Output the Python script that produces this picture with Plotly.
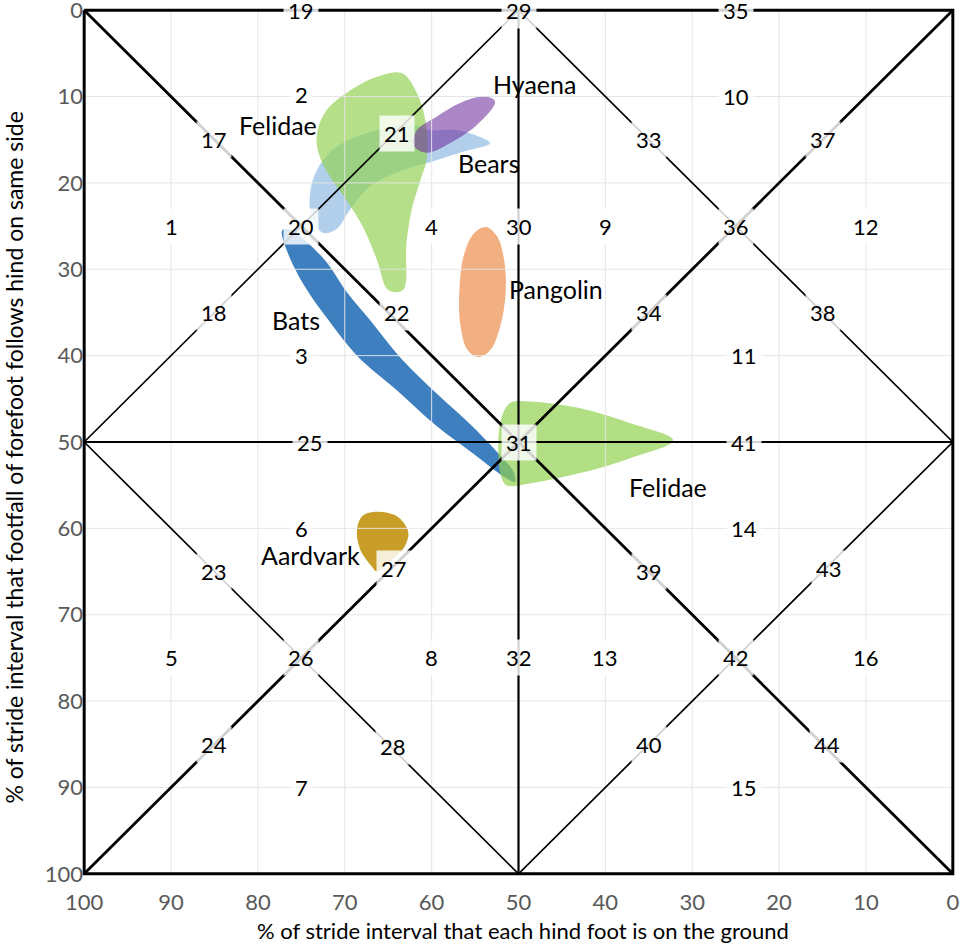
import plotly.graph_objects as go

# ---------------- data ----------------
tick_vals = [0, 10, 20, 30, 40, 50, 60, 70, 80, 90, 100]
grid_vals = [10, 20, 30, 40, 60, 70, 80, 90]

x_title = "% of stride interval that each hind foot is on the ground"
y_title = "% of stride interval that footfall of forefoot follows hind on same side"

# structural lines (x = % stride hind foot on ground, y = % forefoot follows hind)
border_x = [100, 0, 0, 100, 100]
border_y = [0, 0, 100, 100, 0]
diag_x = [100, 0, None, 0, 100]
diag_y = [0, 100, None, 0, 100]
cross_x = [50, 50, None, 100, 0]
cross_y = [0, 100, None, 50, 50]
diamond_x = [100, 50, 0, 50, 100]
diamond_y = [50, 0, 50, 100, 50]

# gait region numbers
region_text = ["19", "29", "35", "2", "10", "17", "21", "33", "37",
               "1", "20", "4", "30", "9", "36", "12",
               "18", "22", "34", "38", "3", "11",
               "25", "31", "41", "6", "14",
               "23", "27", "39", "43",
               "5", "26", "8", "32", "13", "42", "16",
               "24", "28", "40", "44", "7", "15"]
region_x = [75, 50, 25, 75, 25, 85, 64, 35, 15,
            90, 75, 60, 50, 40, 25, 10,
            85, 64, 35, 15, 75, 24,
            74, 50, 24, 75, 24,
            85, 64.3, 35, 14.3,
            90, 75, 60, 50, 40, 25, 10,
            85, 64.4, 35, 14.5, 75, 24]
region_y = [0, 0, 0, 9.8, 10, 15, 14.3, 15, 15,
            25, 25, 25, 25, 25, 25, 25,
            35, 35, 35, 35, 40, 40,
            50, 50, 50, 60, 60,
            65, 64.6, 65, 64.6,
            75, 75, 75, 75, 75, 75, 75,
            85, 85.2, 85, 85, 90, 90]

# animal group outlines
bears_x = [60.2, 57.1, 54.4, 53.3, 56.4, 60.2, 63.3, 67.1, 69.4, 70.9, 72.5, 73.8, 74.0, 73.2, 70.9, 66.3, 62.1]
bears_y = [13.9, 13.9, 14.7, 15.4, 16.4, 17.6, 18.5, 20.4, 23.1, 25.3, 25.8, 23.9, 21.2, 18.5, 15.8, 13.9, 13.3]

felidae1_x = [63.4, 61.7, 60.6, 60.6, 61.3, 62.3, 62.9, 63.3, 65.0, 66.3, 67.9, 69.8, 71.7, 73.0, 73.2, 72.1, 69.4, 66.3]
felidae1_y = [7.3, 9.6, 13.5, 17.4, 19.7, 23.1, 27.0, 32.4, 32.4, 28.9, 25.1, 22.0, 19.3, 16.6, 14.3, 11.6, 9.3, 7.7]

hyaena_x = [62.1, 60.6, 57.9, 54.8, 52.7, 53.7, 56.4, 59.4, 61.7]
hyaena_y = [15.6, 16.5, 15.4, 13.3, 10.6, 10.0, 10.6, 12.3, 13.9]

pangolin_x = [53.7, 52.4, 51.6, 51.5, 52.1, 53.2, 54.6, 55.9, 56.7, 56.8, 56.3, 55.1]
pangolin_y = [25.1, 26.3, 29.3, 33.0, 36.6, 39.3, 40.2, 39.3, 36.4, 32.4, 28.4, 25.8]

bats_x = [77.2, 76.6, 74.6, 71.8, 68.6, 64.0, 59.6, 55.0, 51.4, 50.4,
          50.6, 52.6, 55.5, 59.2, 63.8, 67.0, 69.8, 72.0, 74.4, 76.3]
bats_y = [25.5, 28.0, 32.0, 36.0, 40.0, 44.0, 48.0, 51.5, 54.2, 54.6,
          53.4, 51.0, 48.0, 44.6, 40.0, 36.0, 32.6, 29.3, 26.8, 25.4]

felidae2_x = [51.0, 48.7, 42.9, 37.2, 32.2, 37.2, 42.9, 48.7, 51.4, 52.1, 52.1]
felidae2_y = [45.5, 45.3, 46.1, 47.8, 49.8, 51.9, 53.6, 54.8, 55.0, 53.6, 47.8]

aardvark_x = [66.7, 64.0, 62.7, 63.1, 64.4, 66.3, 66.9, 68.2, 68.6, 68.0]
aardvark_y = [58.1, 58.6, 60.4, 62.1, 63.5, 65.0, 64.4, 62.5, 60.2, 58.6]

group_names = ["Felidae", "Hyaena", "Bears", "Pangolin", "Bats", "Felidae", "Aardvark"]
group_lx = [77.7, 48.2, 53.5, 45.7, 75.6, 32.8, 74.0]
group_ly = [13.3, 8.6, 17.7, 32.3, 35.9, 55.2, 63.1]

FONT = "Lato, 'Open Sans', sans-serif"

fig = go.Figure()


def blob(xs, ys, color):
    fig.add_trace(go.Scatter(
        x=xs + xs[:1], y=ys + ys[:1], mode="lines", fill="toself",
        fillcolor=color, line=dict(width=0, shape="spline", smoothing=1.0),
        hoverinfo="skip", showlegend=False))


blob(bears_x, bears_y, "rgba(157,195,230,0.80)")
blob(felidae1_x, felidae1_y, "rgba(146,208,80,0.68)")
blob(hyaena_x, hyaena_y, "rgba(112,48,160,0.58)")
blob(pangolin_x, pangolin_y, "rgb(242,176,130)")
blob(bats_x, bats_y, "rgb(62,127,191)")
blob(felidae2_x, felidae2_y, "rgba(146,208,80,0.70)")
blob(aardvark_x, aardvark_y, "rgb(200,158,40)")

# light gridlines (drawn over the shapes, as in the original)
gx, gy = [], []
for v in grid_vals:
    gx += [v, v, None, 0, 100, None]
    gy += [0, 100, None, v, v, None]
fig.add_trace(go.Scatter(x=gx, y=gy, mode="lines",
                         line=dict(color="rgba(228,228,228,0.95)", width=1),
                         hoverinfo="skip", showlegend=False))


def seg(xs, ys, w):
    fig.add_trace(go.Scatter(x=xs, y=ys, mode="lines",
                             line=dict(color="black", width=w),
                             hoverinfo="skip", showlegend=False))


seg(diamond_x, diamond_y, 1.7)
seg(cross_x, cross_y, 2.2)
seg(diag_x, diag_y, 2.8)
seg(border_x, border_y, 3)

for t, x, y in zip(region_text, region_x, region_y):
    fig.add_annotation(x=x, y=y, xref="x", yref="y", text=t, showarrow=False,
                       font=dict(family=FONT, size=22, color="black"),
                       bgcolor="rgba(255,255,255,0.82)", borderpad=4)

for t, x, y in zip(group_names, group_lx, group_ly):
    fig.add_annotation(x=x, y=y, xref="x", yref="y", text=t, showarrow=False,
                       font=dict(family=FONT, size=25, color="black"))

# axis titles
fig.add_annotation(x=0.505, y=-0.0625, xref="paper", yref="paper", text=x_title,
                   showarrow=False, xanchor="center", yanchor="middle",
                   font=dict(family=FONT, size=22, color="black"))
fig.add_annotation(x=-0.078, y=0.482, xref="paper", yref="paper", text=y_title,
                   showarrow=False, xanchor="center", yanchor="middle", textangle=-90,
                   font=dict(family=FONT, size=23, color="black"))

fig.update_layout(
    width=965, height=944,
    margin=dict(l=82, r=10, t=8, b=68, autoexpand=False),
    paper_bgcolor="white", plot_bgcolor="white",
    font=dict(family=FONT),
    showlegend=False,
    xaxis=dict(range=[100.25, -0.25], tickvals=tick_vals, showgrid=False,
               zeroline=False, showline=False, ticks="", ticklabelstandoff=11,
               ticklabeloverflow="allow", automargin=False,
               tickfont=dict(size=22, color="#595959")),
    yaxis=dict(range=[100.25, -0.25], tickvals=tick_vals, showgrid=False,
               zeroline=False, showline=False, ticks="", ticklabelstandoff=-2,
               ticklabeloverflow="allow", automargin=False,
               tickfont=dict(size=22, color="#595959")),
)

fig.write_html("out.html")
